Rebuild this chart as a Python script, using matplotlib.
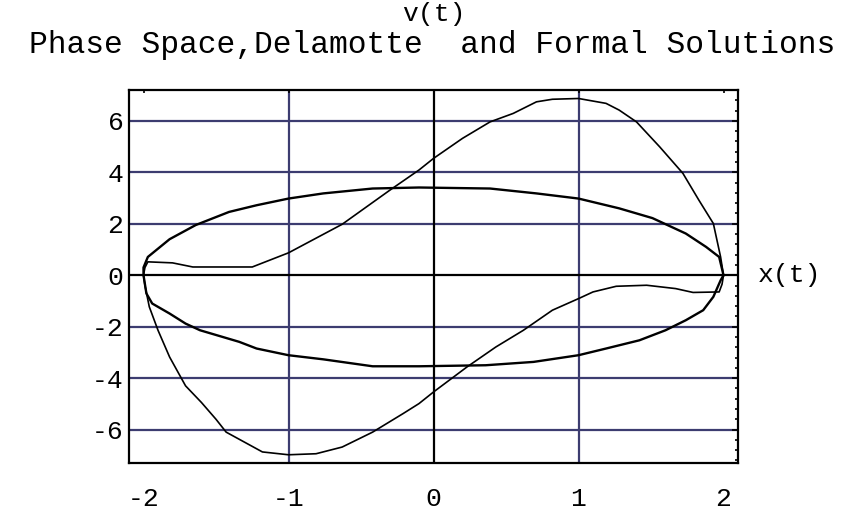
import matplotlib
matplotlib.use("Agg")
import matplotlib.pyplot as plt
from matplotlib.ticker import MultipleLocator, FixedLocator, NullLocator, FuncFormatter

# ---- data ----
# Delamotte solution (thicker closed curve)
ellipse_x = [2.0, 1.97, 1.88, 1.74, 1.51, 1.28, 1.0, 0.71, 0.39, -0.1, -0.42, -0.76, -1.0,
             -1.22, -1.41, -1.64, -1.82, -1.97, -2.0, -2.0, -1.98, -1.94, -1.82, -1.71, -1.61,
             -1.34, -1.22, -1.0, -0.76, -0.42, -0.1, 0.36, 0.69, 1.0, 1.19, 1.42, 1.6, 1.74,
             1.86, 1.93, 1.98, 2.0]
ellipse_y = [0.0, 0.71, 1.10, 1.62, 2.22, 2.60, 2.98, 3.18, 3.37, 3.41, 3.37, 3.18, 2.98,
             2.72, 2.46, 1.95, 1.40, 0.71, 0.30, 0.0, -0.71, -1.10, -1.49, -1.88, -2.14,
             -2.59, -2.85, -3.11, -3.27, -3.54, -3.54, -3.50, -3.37, -3.11, -2.85, -2.53, -2.14,
             -1.75, -1.36, -0.84, -0.20, 0.0]

# Formal solution (thinner closed curve)
formal_x = [2.0, 1.99, 1.97, 1.79, 1.67, 1.47, 1.26, 1.10, 1.0, 0.82, 0.62, 0.43, 0.23, 0.0,
            -0.1, -0.21, -0.42, -0.63, -0.81, -1.0, -1.18, -1.43, -1.50, -1.60, -1.71, -1.82,
            -1.90, -1.96, -1.99, -2.0, -1.99, -1.97, -1.80, -1.66, -1.25, -1.0, -0.63, -0.30,
            -0.1, 0.0, 0.2, 0.39, 0.55, 0.71, 0.82, 1.0, 1.19, 1.28, 1.40, 1.56, 1.72, 1.83,
            1.93, 1.98, 2.0]
formal_y = [0.0, -0.35, -0.65, -0.67, -0.52, -0.39, -0.43, -0.65, -0.91, -1.36, -2.14, -2.79,
            -3.57, -4.54, -4.99, -5.38, -6.10, -6.68, -6.94, -6.98, -6.87, -6.10, -5.60, -4.95,
            -4.30, -3.18, -2.14, -1.23, -0.40, 0.0, 0.30, 0.52, 0.48, 0.32, 0.32, 0.87, 1.98,
            3.31, 4.09, 4.54, 5.32, 5.96, 6.29, 6.74, 6.84, 6.87, 6.68, 6.42, 5.96, 4.99, 3.96,
            2.92, 2.01, 0.71, 0.0]

x_ticks = [-2, -1, 0, 1, 2]
y_ticks = [-6, -4, -2, 0, 2, 4, 6]
grid_x = [-1, 1]
grid_y = [-6, -4, -2, 2, 4, 6]

title = "Phase Space,Delamotte  and Formal Solutions"
y_label = "v(t)"
x_label = "x(t)"

# ---- figure ----
FONT = "Liberation Mono"
GRID = "#3c3c70"

fig = plt.figure(figsize=(8.64, 5.17), dpi=100)
ax = fig.add_axes([129 / 864, 1 - 463 / 517, (738 - 129) / 864, (463 - 90) / 517])
ax.set_xlim(-2.1, 2.1)
ax.set_ylim(-7.3, 7.2)

for gx in grid_x:
    ax.axvline(gx, color=GRID, lw=1.6, zorder=1)
for gy in grid_y:
    ax.axhline(gy, color=GRID, lw=1.6, zorder=1)
ax.axvline(0, color="black", lw=1.6, zorder=2)
ax.axhline(0, color="black", lw=1.6, zorder=2)

ax.plot(formal_x, formal_y, color="black", lw=1.2, zorder=3)
ax.plot(ellipse_x, ellipse_y, color="black", lw=1.7, zorder=4)

for s in ax.spines.values():
    s.set_linewidth(1.6)
    s.set_color("black")
    s.set_zorder(5)

ax.xaxis.set_major_locator(FixedLocator(x_ticks))
ax.yaxis.set_major_locator(FixedLocator(y_ticks))
ax.xaxis.set_minor_locator(NullLocator())
ax.yaxis.set_minor_locator(MultipleLocator(0.4))
fmt = FuncFormatter(lambda v, p: ("%d" % v).replace("\u2212", "-"))
ax.xaxis.set_major_formatter(fmt)
ax.yaxis.set_major_formatter(fmt)

ax.tick_params(axis="both", which="both", direction="in", left=False, bottom=False,
               top=True, right=True, labeltop=False, labelright=False)
ax.tick_params(axis="x", which="major", length=2.5, width=1.2, pad=17)
ax.tick_params(axis="y", which="major", length=4, width=1.2, pad=4)
ax.tick_params(axis="y", which="minor", length=2.5, width=1.2)
for lab in ax.get_xticklabels() + ax.get_yticklabels():
    lab.set_fontfamily(FONT)
    lab.set_fontsize(19)

fig.text(0.5, 1 - 45 / 517, title, ha="center", va="center", fontfamily=FONT, fontsize=22.5)
ax.annotate(y_label, xy=(0, 1), xycoords=("data", "axes fraction"), xytext=(0, 1 - 14 / 517),
            textcoords=("data", "figure fraction"), ha="center", va="center",
            fontfamily=FONT, fontsize=19)
ax.annotate(x_label, xy=(1, 0), xycoords=("axes fraction", "data"), xytext=(790 / 864, 0),
            textcoords=("figure fraction", "data"), ha="center", va="center",
            fontfamily=FONT, fontsize=19)

fig.savefig("out.png", dpi=100)
